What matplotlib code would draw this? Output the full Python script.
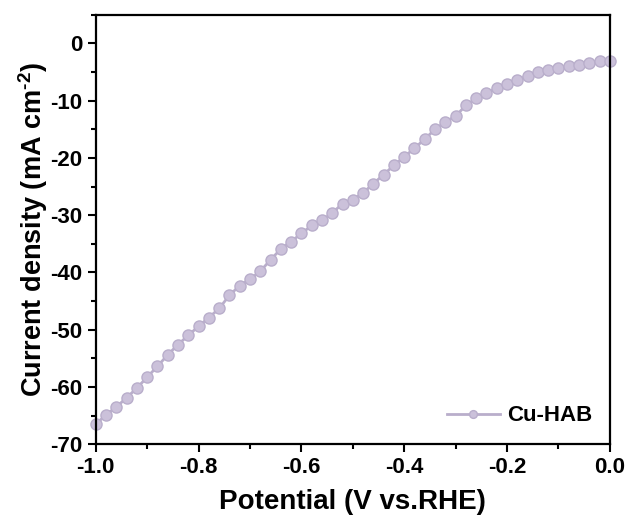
import numpy as np
import matplotlib.pyplot as plt
from matplotlib.ticker import MultipleLocator

plt.rcParams['font.family'] = ['Liberation Sans', 'DejaVu Sans']
plt.rcParams['font.weight'] = 'bold'
plt.rcParams['axes.unicode_minus'] = False
plt.rcParams['mathtext.fontset'] = 'custom'
plt.rcParams['mathtext.bf'] = 'Liberation Sans:bold'
plt.rcParams['mathtext.rm'] = 'Liberation Sans:bold'

# LSV data
potential = np.round(np.arange(-1.0, 0.001, 0.02), 2)
current = np.array([
    -66.5, -64.9, -63.5, -61.9, -60.2, -58.3, -56.4, -54.4, -52.6, -51.0,
    -49.4, -47.9, -46.3, -44.0, -42.3, -41.2, -39.8, -37.8, -35.9, -34.6,
    -33.2, -31.8, -30.9, -29.6, -28.0, -27.3, -26.1, -24.5, -22.9, -21.3,
    -19.8, -18.3, -16.7, -15.0, -13.7, -12.7, -10.8, -9.6, -8.7, -7.8,
    -7.0, -6.3, -5.7, -5.0, -4.6, -4.3, -4.0, -3.8, -3.5, -3.1, -3.0,
])
label = 'Cu-HAB'
color = '#b9aecb'

fig = plt.figure(figsize=(6.3, 5.3), dpi=100)
ax = fig.add_axes([0.152, 0.162, 0.816, 0.810])

ax.plot(potential, current, '-o', color=color, lw=2, ms=8,
        mfc='#cbc1da', mec=color, mew=1, label=label, clip_on=False)

ax.set_xlim(-1.0, 0.0)
ax.set_ylim(-70, 5)
ax.xaxis.set_major_locator(MultipleLocator(0.2))
ax.xaxis.set_minor_locator(MultipleLocator(0.1))
ax.yaxis.set_major_locator(MultipleLocator(10))
ax.yaxis.set_minor_locator(MultipleLocator(5))
ax.xaxis.set_major_formatter(plt.FuncFormatter(lambda v, p: f'{v:.1f}'))

ax.tick_params(which='both', direction='out', width=1.5, labelsize=16)
ax.tick_params(which='major', length=6)
ax.tick_params(which='minor', length=3.5)
for s in ax.spines.values():
    s.set_linewidth(1.6)

ax.set_xlabel('Potential (V vs.RHE)', fontsize=20, fontweight='bold', labelpad=8)
ax.set_ylabel('Current density (mA cm$^{\\text{-2}}$)', fontsize=19.5,
              fontweight='bold', labelpad=0)

ax.legend(loc='lower right', frameon=False, fontsize=16, handlelength=2.4,
          handletextpad=0.3, markerscale=0.7, borderaxespad=0.4)

fig.savefig('out.png', dpi=100)
